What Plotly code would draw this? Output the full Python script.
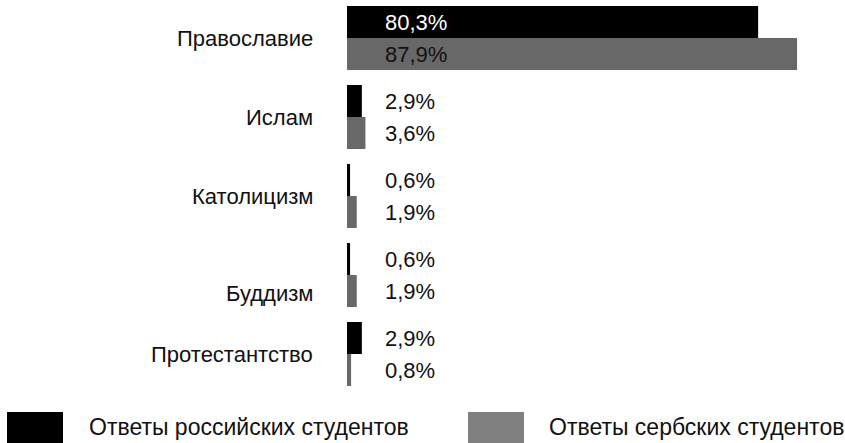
import plotly.graph_objects as go

categories = ["Православие", "Ислам", "Католицизм", "Буддизм", "Протестантство"]
russian = [80.3, 2.9, 0.6, 0.6, 2.9]
serbian = [87.9, 3.6, 1.9, 1.9, 0.8]
series_names = ["Ответы российских студентов", "Ответы сербских студентов"]
bar_colors = ["#000000", "#686868"]
legend_colors = ["#000000", "#808080"]

W, H = 845, 443
ML, MR, MT, MB = 347, 0, 0, 48
PW, PH = W - ML - MR, H - MT - MB
FONT = "Liberation Sans, Arial, sans-serif"
bargap = 0.19


def fmt(v):
    return f"{v:.1f}".replace(".", ",") + "%"


def px_x(p):
    return (p - ML) / PW


def px_y(p):
    return (H - MB - p) / PH


fig = go.Figure()
for name, vals, col in zip(series_names, [russian, serbian], bar_colors):
    fig.add_trace(go.Bar(
        y=categories, x=vals, orientation="h", name=name,
        marker=dict(color=col, line=dict(width=0)),
        showlegend=False, hoverinfo="skip",
    ))

annotations = []
bw = (1 - bargap) / 2
for i, cat in enumerate(categories):
    for k, vals in enumerate([russian, serbian]):
        off = -bw / 2 if k == 0 else bw / 2
        if i == 0:
            color = "#ffffff" if k == 0 else "#111111"
        else:
            color = "#111111"
        annotations.append(dict(
            x=0, y=i + off, xref="x", yref="y", text=fmt(vals[i]),
            xanchor="left", yanchor="middle", xshift=36, showarrow=False,
            font=dict(family=FONT, size=22, color=color),
        ))
    label_shift = {"Буддизм": -18}.get(cat, 0)
    annotations.append(dict(
        x=0, y=i, xref="x", yref="y", text=cat,
        xanchor="right", yanchor="middle", xshift=-32, yshift=label_shift,
        showarrow=False, font=dict(family=FONT, size=22, color="#111111"),
    ))

shapes = []
legend_boxes = [(7, 63), (468, 524)]
legend_text_x = [87, 547]
for (x0, x1), tx, col, name in zip(legend_boxes, legend_text_x, legend_colors, series_names):
    shapes.append(dict(type="rect", xref="paper", yref="paper",
                       x0=px_x(x0), x1=px_x(x1), y0=px_y(443), y1=px_y(412),
                       fillcolor=col, line=dict(width=0)))
    annotations.append(dict(
        x=px_x(tx), y=px_y(427), xref="paper", yref="paper", text=name,
        xanchor="left", yanchor="middle", showarrow=False,
        font=dict(family=FONT, size=23, color="#111111"),
    ))

fig.update_layout(
    width=W, height=H,
    margin=dict(l=ML, r=MR, t=MT, b=MB, pad=0),
    plot_bgcolor="white", paper_bgcolor="white",
    barmode="group", bargap=bargap, bargroupgap=0,
    xaxis=dict(range=[0, PW / 5.12], visible=False, fixedrange=True),
    yaxis=dict(range=[4.519, -0.481], showticklabels=False, showgrid=False,
               zeroline=False, showline=False, ticks="", fixedrange=True),
    annotations=annotations, shapes=shapes,
    font=dict(family=FONT),
)

fig.write_html(
    "out.html",
    config={"displayModeBar": False},
    post_script="document.body.style.margin='0';document.body.style.overflow='hidden';",
)
